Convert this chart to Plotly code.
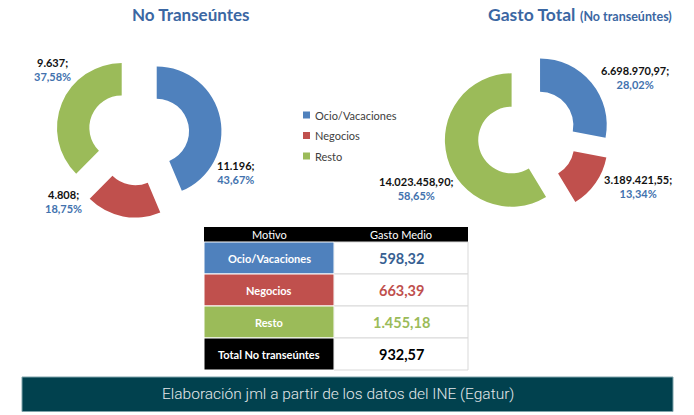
import plotly.graph_objects as go

# ---------------- data ----------------
categories = ["Ocio/Vacaciones", "Negocios", "Resto"]
viajeros = [11196, 4808, 9637]
viajeros_pct = [43.67, 18.75, 37.58]
gasto_total = [6698970.97, 3189421.55, 14023458.90]
gasto_pct = [28.02, 13.34, 58.65]
gasto_medio = [598.32, 663.39, 1455.18]
total_label = "Total No transeúntes"
total_gasto_medio = 932.57
table_header = ["Motivo", "Gasto Medio"]
title_left = "No Transeúntes"
title_right_main = "Gasto Total"
title_right_sub = "(No transeúntes)"
footer_text = "Elaboración jml a partir de los datos del INE (Egatur)"

colors = ["#4F81BD", "#C0504D", "#9BBB59"]
value_colors = ["#376092", "#C0504D", "#9BBB59"]
pct_color = "#4272AE"
FONT = "Lato, 'Open Sans', sans-serif"

W, H = 694, 415


def fmt_es(v, dec):
    s = f"{v:,.{dec}f}"
    return s.replace(",", "X").replace(".", ",").replace("X", ".")


def px(x):
    return x / W


def py(y):
    return 1 - y / H


def dom(cx, cy, half):
    return dict(x=[(cx - half) / W, (cx + half) / W],
                y=[1 - (cy + half) / H, 1 - (cy - half) / H])


fig = go.Figure()

fig.add_trace(go.Pie(
    labels=categories, values=viajeros, hole=0.5, pull=[0.284] * 3,
    sort=False, direction="clockwise", rotation=0,
    marker=dict(colors=colors, line=dict(width=0)),
    textinfo="none", showlegend=False,
    domain=dom(138.7, 134.8, 83.1)))

fig.add_trace(go.Pie(
    labels=categories, values=gasto_total, hole=0.5, pull=[0.246] * 3,
    sort=False, direction="clockwise", rotation=0,
    marker=dict(colors=colors, line=dict(width=0)),
    textinfo="none", showlegend=False,
    domain=dom(527.4, 135.6, 83.1)))

ann = []
shapes = []

# titles
ann.append(dict(x=px(191), y=py(14), xref="paper", yref="paper",
                text=f"<b>{title_left}</b>", showarrow=False,
                font=dict(family=FONT, size=17, color="#3B67A3"),
                xanchor="center", yanchor="middle"))
ann.append(dict(x=px(579.5), y=py(14), xref="paper", yref="paper",
                text=f"<b>{title_right_main}</b> <b><span style='font-size:12.5px'>{title_right_sub}</span></b>",
                showarrow=False,
                font=dict(family=FONT, size=17.5, color="#3B67A3"),
                xanchor="center", yanchor="middle"))

# data labels (positions are layout positions)
left_pos = [(235.5, 172.5), (63, 201), (52, 69.5)]
right_pos = [(635, 77.5), (638, 187), (416.7, 188.7)]
for i in range(3):
    t = f"<b>{fmt_es(viajeros[i], 0)};<br><span style='color:{pct_color}'>{fmt_es(viajeros_pct[i], 2)}%</span></b>"
    ann.append(dict(x=px(left_pos[i][0]), y=py(left_pos[i][1]), xref="paper", yref="paper",
                    text=t, showarrow=False, align="center",
                    font=dict(family=FONT, size=11, color="#111111"),
                    xanchor="center", yanchor="middle"))
    t = f"<b>{fmt_es(gasto_total[i], 2)};<br><span style='color:{pct_color}'>{fmt_es(gasto_pct[i], 2)}%</span></b>"
    ann.append(dict(x=px(right_pos[i][0]), y=py(right_pos[i][1]), xref="paper", yref="paper",
                    text=t, showarrow=False, align="center",
                    font=dict(family=FONT, size=11, color="#111111"),
                    xanchor="center", yanchor="middle"))

# legend (manual)
for i, c in enumerate(categories):
    yc = 115 + 20.5 * i
    shapes.append(dict(type="rect", xref="paper", yref="paper",
                       x0=px(303), x1=px(310), y0=py(yc + 3.5), y1=py(yc - 3.5),
                       fillcolor=colors[i], line=dict(width=0)))
    ann.append(dict(x=px(312.5), y=py(yc), xref="paper", yref="paper",
                    text=c, showarrow=False,
                    font=dict(family=FONT, size=11, color="#404040"),
                    xanchor="left", yanchor="middle"))

# table
xL0, xM, xR1 = 204, 334, 468
hy0, hy1 = 227, 242
rh = 32
shapes.append(dict(type="rect", xref="paper", yref="paper",
                   x0=px(xL0), x1=px(xR1), y0=py(hy1), y1=py(hy0),
                   fillcolor="#000000", line=dict(width=0)))
for j, h in enumerate(table_header):
    xc = (xL0 + xM) / 2 if j == 0 else (xM + xR1) / 2
    ann.append(dict(x=px(xc), y=py((hy0 + hy1) / 2), xref="paper", yref="paper",
                    text=h, showarrow=False,
                    font=dict(family=FONT, size=11, color="#FFFFFF"),
                    xanchor="center", yanchor="middle"))

row_labels = categories + [total_label]
row_values = gasto_medio + [total_gasto_medio]
row_fill = colors + ["#000000"]
row_vcol = value_colors + ["#000000"]
for i in range(4):
    y0 = hy1 + rh * i
    y1 = y0 + rh
    shapes.append(dict(type="rect", xref="paper", yref="paper",
                       x0=px(xM), x1=px(xR1), y0=py(y1), y1=py(y0),
                       fillcolor="#FFFFFF", line=dict(width=1, color="#D9D9D9")))
    shapes.append(dict(type="rect", xref="paper", yref="paper",
                       x0=px(xL0), x1=px(xM), y0=py(y1), y1=py(y0),
                       fillcolor=row_fill[i], line=dict(width=1, color="#FFFFFF")))
    ann.append(dict(x=px((xL0 + xM) / 2), y=py((y0 + y1) / 2), xref="paper", yref="paper",
                    text=f"<b>{row_labels[i]}</b>", showarrow=False,
                    font=dict(family=FONT, size=11, color="#FFFFFF"),
                    xanchor="center", yanchor="middle"))
    ann.append(dict(x=px((xM + xR1) / 2), y=py((y0 + y1) / 2), xref="paper", yref="paper",
                    text=f"<b>{fmt_es(row_values[i], 2)}</b>", showarrow=False,
                    font=dict(family=FONT, size=14.5, color=row_vcol[i]),
                    xanchor="center", yanchor="middle"))

# footer
shapes.append(dict(type="rect", xref="paper", yref="paper",
                   x0=px(22), x1=px(673), y0=py(411.5), y1=py(377),
                   fillcolor="#01414E", line=dict(width=1, color="#7FA3AA")))
ann.append(dict(x=px(338), y=py(394), xref="paper", yref="paper",
                text=footer_text, showarrow=False,
                font=dict(family="Roboto, sans-serif", size=15.5, color="#E4E8EA", weight=300),
                xanchor="center", yanchor="middle"))

fig.update_layout(
    width=W, height=H, autosize=False,
    margin=dict(l=0, r=0, t=0, b=0),
    paper_bgcolor="#FFFFFF", plot_bgcolor="#FFFFFF",
    showlegend=False,
    annotations=ann, shapes=shapes,
    font=dict(family=FONT),
)

fig.write_html("out.html",
               config={"displayModeBar": False},
               post_script="document.body.style.margin='0px';document.body.style.overflow='hidden';")
